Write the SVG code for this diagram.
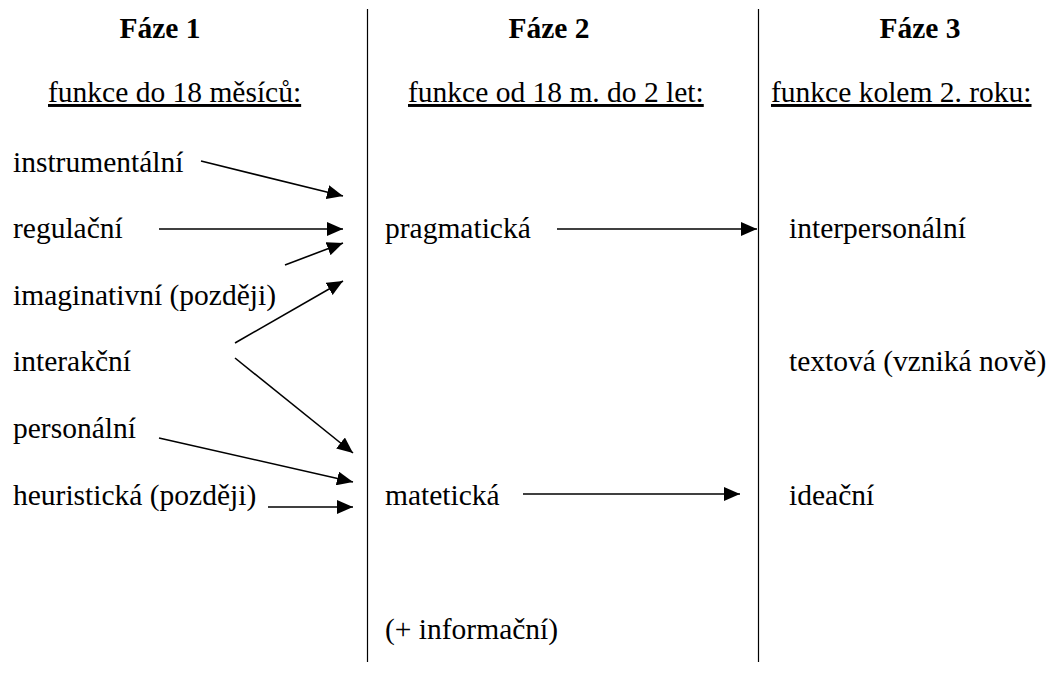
<svg xmlns="http://www.w3.org/2000/svg" width="1061" height="675" viewBox="0 0 1061 675">
<style>
text{font-family:"Liberation Serif","Times New Roman",serif;font-size:29.5px;fill:#000}
.h{font-weight:bold;text-anchor:middle}
.u{text-decoration:underline}
.c{stroke:#000;stroke-width:1.6;fill:none;marker-end:url(#ah)}
.d{stroke:#000;stroke-width:1.2}
</style>
<defs>
<marker id="ah" viewBox="0 0 16 14" refX="16" refY="7" markerWidth="16" markerHeight="14" markerUnits="userSpaceOnUse" orient="auto">
<path d="M0,0 L16,7 L0,14 z" fill="#000"/>
</marker>
</defs>
<rect width="1061" height="675" fill="#fff"/>
<g id="dividers">
<line class="d" x1="367.5" y1="9" x2="367.5" y2="662"/>
<line class="d" x1="758.5" y1="9" x2="758.5" y2="662"/>
</g>
<g id="headers">
<text class="h" x="160" y="38">Fáze 1</text>
<text class="h" x="549" y="38">Fáze 2</text>
<text class="h" x="920" y="38">Fáze 3</text>
<text class="u" x="48" y="102">funkce do 18 měsíců:</text>
<text class="u" x="408" y="102">funkce od 18 m. do 2 let:</text>
<text class="u" x="771" y="102">funkce kolem 2. roku:</text>
</g>
<g id="n-instrumentalni"><text x="13" y="172">instrumentální</text></g>
<g id="n-regulacni"><text x="13" y="238">regulační</text></g>
<g id="n-imaginativni"><text x="13" y="305">imaginativní (později)</text></g>
<g id="n-interakcni"><text x="13" y="371">interakční</text></g>
<g id="n-personalni"><text x="13" y="438">personální</text></g>
<g id="n-heuristicka"><text x="13" y="505">heuristická (později)</text></g>
<g id="n-pragmaticka"><text x="385" y="238">pragmatická</text></g>
<g id="n-mateticka"><text x="385" y="505">matetická</text></g>
<g id="n-informacni"><text x="385" y="639">(+ informační)</text></g>
<g id="n-interpersonalni"><text x="789" y="238">interpersonální</text></g>
<g id="n-textova"><text x="789" y="371">textová (vzniká nově)</text></g>
<g id="n-ideacni"><text x="789" y="505">ideační</text></g>
<g id="connectors">
<line class="c" x1="201" y1="161" x2="343" y2="196"/>
<line class="c" x1="159" y1="229" x2="343" y2="229"/>
<line class="c" x1="285" y1="265" x2="343" y2="243"/>
<line class="c" x1="235" y1="343" x2="343" y2="281"/>
<line class="c" x1="235" y1="358" x2="353" y2="453"/>
<line class="c" x1="159" y1="438" x2="353" y2="482"/>
<line class="c" x1="268" y1="507" x2="353" y2="507"/>
<line class="c" x1="557" y1="229" x2="757" y2="229"/>
<line class="c" x1="523" y1="494" x2="740" y2="494"/>
</g>
</svg>
